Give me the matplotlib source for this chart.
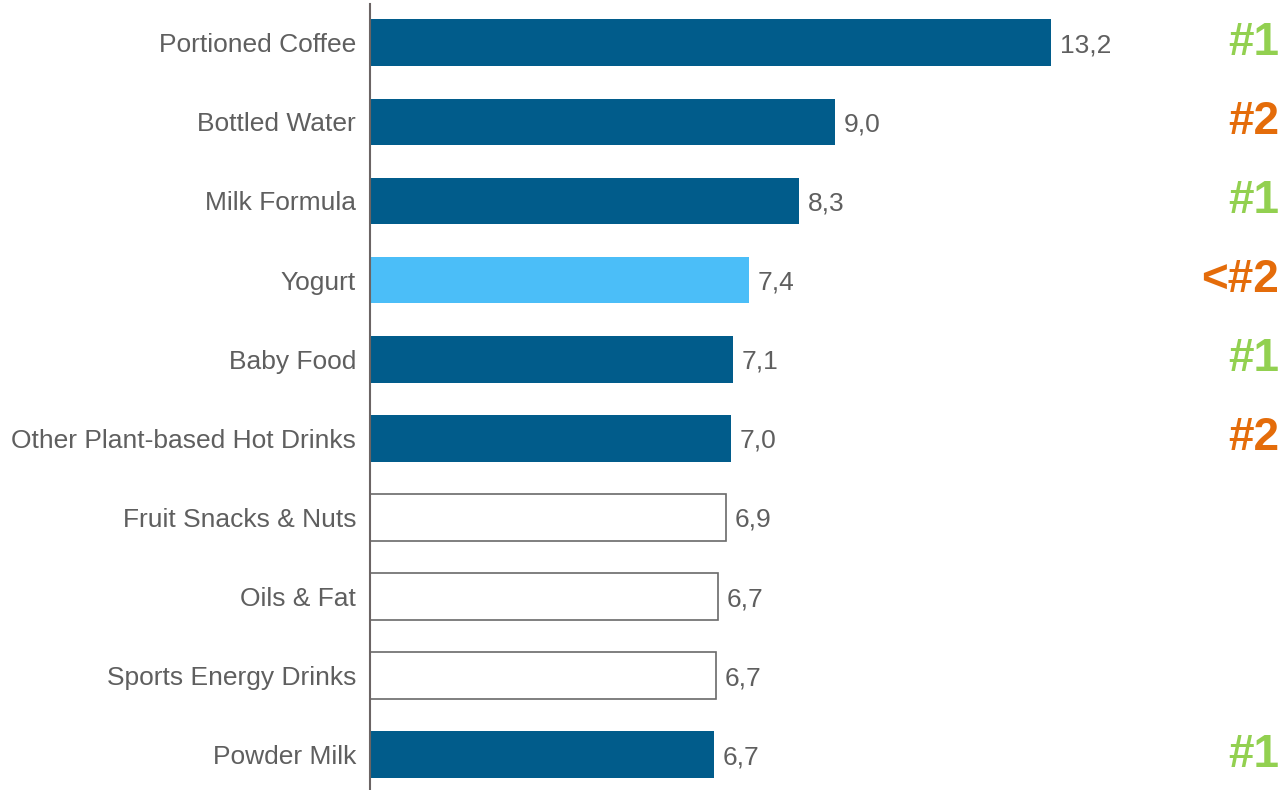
import matplotlib.pyplot as plt
from matplotlib.transforms import blended_transform_factory

plt.rcParams['font.family'] = ['Liberation Sans', 'DejaVu Sans']

categories = ["Portioned Coffee", "Bottled Water", "Milk Formula", "Yogurt",
              "Baby Food", "Other Plant-based Hot Drinks", "Fruit Snacks & Nuts",
              "Oils & Fat", "Sports Energy Drinks", "Powder Milk"]
values = [13.2, 9.02, 8.32, 7.35, 7.04, 7.0, 6.9, 6.74, 6.71, 6.66]
value_labels = ["13,2", "9,0", "8,3", "7,4", "7,1", "7,0", "6,9", "6,7", "6,7", "6,7"]
styles = ["dark", "dark", "dark", "light", "dark", "dark", "open", "open", "open", "dark"]
ranks = ["#1", "#2", "#1", "<#2", "#1", "#2", "", "", "", "#1"]
rank_kind = ["top", "second", "top", "second", "top", "second", "", "", "", "top"]

DARK = "#015C8B"
LIGHT = "#4BBEF8"
GREEN = "#92D050"
ORANGE = "#E46C0A"
GREY = "#5f5f5f"

W, H = 1283, 790
fig = plt.figure(figsize=(W / 100, H / 100), dpi=100)
ax = fig.add_axes([370 / W, 0, (W - 370) / W, (H - 4) / H])

ypos = list(range(len(categories)))
for y, v, s in zip(ypos, values, styles):
    if s == "open":
        ax.barh(y, v, height=0.59, color="white", edgecolor="#6a6a6a", linewidth=1.2)
    else:
        ax.barh(y, v, height=0.59, color=DARK if s == "dark" else LIGHT)

ax.set_xlim(0, (W - 370) / 51.6)
ax.set_ylim(len(categories) - 1 + 0.445, -0.49)

for y, v, lbl in zip(ypos, values, value_labels):
    ax.text(v + 0.17, y, lbl, va="center_baseline", ha="left", fontsize=19, color=GREY)

ax.set_yticks(ypos)
ax.set_yticklabels(categories, fontsize=19, color=GREY)
ax.tick_params(axis="y", length=0, pad=10)
ax.set_xticks([])

for side in ["top", "right", "bottom"]:
    ax.spines[side].set_visible(False)
ax.spines["left"].set_color("#6b6464")
ax.spines["left"].set_linewidth(1.5)

tr = blended_transform_factory(fig.transFigure, ax.transData)
for y, r, k in zip(ypos, ranks, rank_kind):
    if r:
        ax.text(1279 / W, y, r, transform=tr, ha="right", va="center",
                fontsize=33, fontweight="bold", color=GREEN if k == "top" else ORANGE)

fig.savefig("out.png", dpi=100)
